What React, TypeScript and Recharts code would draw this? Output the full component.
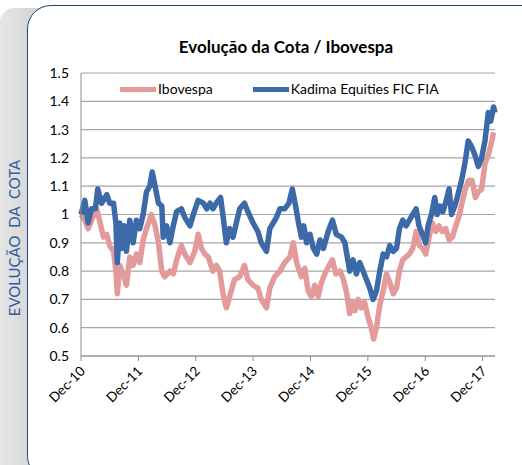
import React from "react";
import { LineChart, Line, XAxis, YAxis, CartesianGrid } from "recharts";

// months since Dec-10
const tickMonths = [0, 12, 24, 36, 48, 60, 72, 84];
const tickLabels = ["Dec-10", "Dec-11", "Dec-12", "Dec-13", "Dec-14", "Dec-15", "Dec-16", "Dec-17"];
const yTicks = [0.5, 0.6, 0.7, 0.8, 0.9, 1, 1.1, 1.2, 1.3, 1.4, 1.5];

const kadimaT = [0, 0.8, 1.5, 2.2, 3, 3.5, 4.3, 5.4, 6, 6.8, 7.3, 7.6, 8.1, 8.5, 9, 9.5, 10.2, 10.9, 11.6, 12.3, 13, 13.7, 14.4, 14.9, 15.5, 16.2, 16.9, 17.2, 17.9, 18.6, 19.3, 20, 21, 21.7, 22.8, 23.5, 24.5, 25.6, 26.3, 27, 27.6, 28.3, 29.2, 29.9, 30.4, 31.1, 31.8, 32.5, 33.2, 34.2, 34.9, 36, 37, 37.7, 38.8, 39.5, 40.2, 40.9, 41.6, 42.6, 43.5, 44.2, 44.9, 45.4, 46.1, 46.6, 47.2, 47.9, 48.6, 49.3, 50, 50.7, 51.7, 52.6, 53.4, 54.5, 55.2, 56.2, 56.9, 57.6, 58.3, 59, 59.7, 60.4, 61.1, 61.8, 62.5, 63.2, 63.9, 64.6, 65.3, 66, 66.6, 67.3, 68, 68.7, 69.4, 70.1, 70.7, 71.4, 72.1, 72.6, 73.3, 74, 74.5, 75.1, 75.7, 76.4, 77, 77.5, 78.2, 78.7, 79.6, 80.3, 81, 81.7, 82.4, 83.1, 83.8, 84.5, 85.2, 85.7, 86.3, 86.6];
const kadimaV = [1.0, 1.05, 0.97, 1.02, 1.02, 1.09, 1.04, 1.07, 1.04, 1.04, 0.97, 0.83, 0.97, 0.88, 0.96, 0.87, 0.98, 0.9, 0.98, 0.95, 1.0, 1.08, 1.1, 1.15, 1.1, 1.04, 1.03, 0.92, 0.96, 0.9, 0.96, 1.01, 1.02, 0.99, 0.96, 1.0, 1.05, 1.04, 1.02, 1.04, 1.02, 1.04, 1.06, 0.97, 0.9, 0.95, 0.92, 0.97, 1.02, 1.04, 1.01, 0.97, 0.94, 0.9, 0.87, 0.95, 0.97, 0.99, 1.02, 1.02, 1.04, 1.09, 1.03, 0.98, 0.92, 0.96, 0.9, 0.93, 0.88, 0.86, 0.91, 0.88, 0.94, 0.98, 0.93, 0.92, 0.9, 0.8, 0.84, 0.79, 0.83, 0.8, 0.77, 0.74, 0.7, 0.73, 0.8, 0.86, 0.85, 0.89, 0.87, 0.88, 0.95, 0.98, 0.96, 0.98, 1.0, 1.02, 0.96, 0.93, 0.9, 0.96, 1.0, 1.06, 1.0, 1.03, 1.01, 1.05, 1.09, 1.0, 1.03, 1.06, 1.12, 1.18, 1.26, 1.24, 1.21, 1.17, 1.2, 1.26, 1.36, 1.33, 1.38, 1.36];

const iboT = [0, 0.8, 1.5, 2.2, 3.3, 4, 4.7, 5.4, 6, 6.8, 7.3, 7.6, 8.1, 8.8, 9.5, 10.2, 10.9, 11.6, 12.3, 13, 13.7, 14.7, 15.5, 16.2, 16.9, 17.5, 18.6, 19.3, 20, 21, 21.7, 22.8, 23.8, 24.5, 25.2, 25.9, 26.6, 27.6, 28.3, 29, 29.7, 30.4, 31.1, 32.1, 33.2, 34.2, 34.9, 36, 37, 37.7, 38.8, 39.5, 40.5, 41.6, 42.6, 43.7, 44.4, 45.1, 46.1, 46.8, 47.5, 48.2, 48.9, 49.6, 50.3, 51, 51.9, 52.6, 53.3, 54.2, 54.9, 55.6, 56.2, 56.8, 57.3, 58, 58.6, 59.3, 60, 60.7, 61.2, 61.8, 62.5, 63.2, 63.9, 64.6, 65.3, 66, 66.6, 67.3, 68, 68.7, 69.4, 70.1, 70.8, 71.5, 72.1, 72.8, 73.5, 74.2, 74.9, 75.6, 76.3, 77, 77.7, 78.4, 79, 79.7, 80.4, 81.1, 81.8, 82.5, 83.1, 83.8, 84.5, 85.2, 85.8, 86.3];
const iboV = [1.0, 0.98, 0.95, 0.98, 1.02, 0.97, 0.92, 0.93, 0.89, 0.87, 0.8, 0.72, 0.82, 0.79, 0.75, 0.85, 0.82, 0.86, 0.83, 0.91, 0.95, 1.0, 0.96, 0.9, 0.8, 0.78, 0.8, 0.79, 0.84, 0.89, 0.86, 0.83, 0.87, 0.93, 0.88, 0.86, 0.85, 0.8, 0.82, 0.8, 0.72, 0.67, 0.71, 0.77, 0.78, 0.82, 0.77, 0.75, 0.74, 0.7, 0.67, 0.74, 0.78, 0.8, 0.83, 0.85, 0.9, 0.83, 0.78, 0.81, 0.73, 0.71, 0.75, 0.71, 0.76, 0.79, 0.82, 0.84, 0.79, 0.8, 0.77, 0.72, 0.65, 0.69, 0.66, 0.7, 0.67, 0.69, 0.64, 0.6, 0.56, 0.6, 0.68, 0.73, 0.79, 0.76, 0.72, 0.74, 0.8, 0.84, 0.85, 0.86, 0.88, 0.94, 0.89, 0.88, 0.86, 0.92, 0.97, 0.94, 0.96, 0.94, 0.95, 0.91, 0.92, 0.96, 0.99, 1.04, 1.09, 1.12, 1.12, 1.06, 1.08, 1.09, 1.18, 1.21, 1.25, 1.29];

const kadimaData = kadimaT.map((t, i) => ({ t, v: kadimaV[i] }));
const iboData = iboT.map((t, i) => ({ t, v: iboV[i] }));

const PINK = "#e29b9a";
const BLUE = "#3c69a7";
const FONT = "Lato, 'Open Sans', sans-serif";

const XTick = (props: any) => {
  const { x, y, payload } = props;
  const label = tickLabels[tickMonths.indexOf(payload.value)];
  return (
    <text
      x={x + 5}
      y={y + 9}
      transform={`rotate(-45 ${x + 5} ${y + 9})`}
      textAnchor="end"
      fontSize={13.5}
      fontFamily={FONT}
      fill="#000"
    >
      {label}
    </text>
  );
};

export default function App() {
  return (
    <div style={{ position: "fixed", left: 0, top: 0, width: 522, height: 465, background: "#fff", overflow: "hidden" }}>
      <div
        style={{
          position: "absolute",
          left: 0,
          top: 8,
          width: 40,
          height: 470,
          borderTopLeftRadius: 14,
          background: "linear-gradient(to right, #e6e6e6, #d2d2d2)",
        }}
      />
      <div
        style={{
          position: "absolute",
          left: 27,
          top: 5,
          width: 520,
          height: 475,
          border: "1.5px solid #1f4480",
          borderRadius: 24,
          background: "#fff",
          boxSizing: "border-box",
        }}
      />
      <div
        style={{
          position: "absolute",
          left: 14,
          top: 238,
          transform: "translate(-50%, -50%) rotate(-90deg)",
          whiteSpace: "nowrap",
          fontFamily: FONT,
          fontSize: 15,
          color: "#2e5c9e",
          wordSpacing: 4,
        }}
      >
        EVOLUÇÃO DA COTA
      </div>
      <div
        style={{
          position: "absolute",
          left: 0,
          width: 572,
          top: 36,
          textAlign: "center",
          fontFamily: FONT,
          fontWeight: 700,
          fontSize: 17,
          color: "#000",
        }}
      >
        Evolução da Cota / Ibovespa
      </div>
      <div style={{ position: "absolute", left: 0, top: 0 }}>
        <LineChart width={522} height={465} margin={{ top: 73, right: 27, bottom: 49, left: 0 }}>
          <CartesianGrid vertical={false} stroke="#a6a6a6" strokeWidth={1.2} />
          <XAxis
            dataKey="t"
            type="number"
            domain={[0, 86.6]}
            ticks={tickMonths}
            allowDuplicatedCategory={false}
            tick={<XTick />}
            tickLine={{ stroke: "#8c8c8c" }}
            tickSize={5}
            axisLine={{ stroke: "#8c8c8c" }}
            height={60}
            interval={0}
          />
          <YAxis
            type="number"
            domain={[0.5, 1.5]}
            ticks={yTicks}
            tickFormatter={(v: number) => String(Math.round(v * 10) / 10)}
            tick={{ fontSize: 14, fontFamily: FONT, fill: "#000" }}
            axisLine={{ stroke: "#8c8c8c" }}
            tickLine={false}
            tickMargin={6}
            width={81}
            interval={0}
          />
          <Line
            data={iboData}
            dataKey="v"
            stroke={PINK}
            strokeWidth={5.5}
            dot={false}
            strokeLinejoin="round"
            isAnimationActive={false}
          />
          <Line
            data={kadimaData}
            dataKey="v"
            stroke={BLUE}
            strokeWidth={5.5}
            dot={false}
            strokeLinejoin="round"
            isAnimationActive={false}
          />
        </LineChart>
      </div>
      <div
        style={{
          position: "absolute",
          left: 120,
          top: 80,
          display: "flex",
          fontFamily: FONT,
          fontSize: 14,
          color: "#000",
          lineHeight: "18px",
        }}
      >
        <div style={{ display: "flex", alignItems: "center", marginRight: 40 }}>
          <span style={{ width: 36, height: 5, background: PINK, display: "inline-block", marginRight: 2 }} />
          Ibovespa
        </div>
        <div style={{ display: "flex", alignItems: "center" }}>
          <span style={{ width: 36, height: 5, background: BLUE, display: "inline-block", marginRight: 2 }} />
          Kadima Equities FIC FIA
        </div>
      </div>
    </div>
  );
}
